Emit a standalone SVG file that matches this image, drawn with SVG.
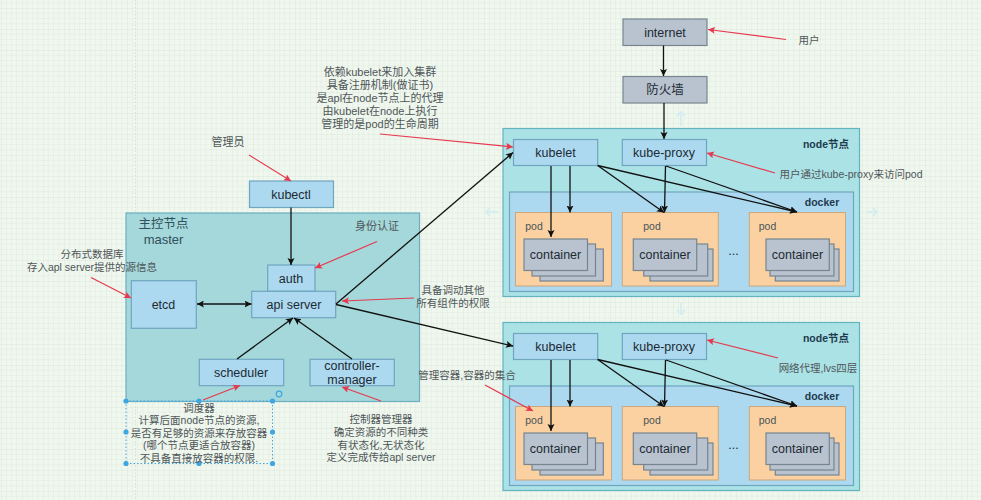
<svg xmlns="http://www.w3.org/2000/svg" xmlns:xlink="http://www.w3.org/1999/xlink" width="981" height="500" viewBox="0 0 981 500">
<style>
text{font-family:"Liberation Sans","Noto Sans CJK SC",sans-serif;text-anchor:middle;dominant-baseline:central}
.b{fill:#acd9ef;stroke:#6ea6bf;stroke-width:1.2}
.g{fill:#b8c3cf;stroke:#76858f;stroke-width:1.2}
.p{fill:#fbd1a2;stroke:#c9a77f;stroke-width:1}
.t{font-size:12.5px;fill:#1d2a33}
.n{font-size:10.5px;fill:#4a5558}
.h{font-size:10.5px;font-weight:bold;fill:#1f3a4d}
.l{font-size:10.5px;fill:#4f5659}
.m{font-size:11px;fill:#4f5659}
.k{fill:none;stroke:#111;stroke-width:1.3;marker-end:url(#ka)}
.r{fill:none;stroke:#e6394f;stroke-width:1.2;marker-end:url(#ra)}
.hd{fill:#3ea6e0}
.sel{fill:none;stroke:#3ea6e0;stroke-width:1;stroke-dasharray:1.5 2}
.ga{fill:none;stroke:#d6eef0;stroke-width:2}
</style>
<defs>
<marker id="ka" markerWidth="8" markerHeight="8" refX="7" refY="3.5" orient="auto" markerUnits="userSpaceOnUse"><path d="M0 0L7 3.5L0 7L1.5 3.5Z" fill="#111"/></marker>
<marker id="ks" markerWidth="8" markerHeight="8" refX="0" refY="3.5" orient="auto" markerUnits="userSpaceOnUse"><path d="M7 0L0 3.5L7 7L5.5 3.5Z" fill="#111"/></marker>
<marker id="ra" markerWidth="8" markerHeight="8" refX="7" refY="3.5" orient="auto" markerUnits="userSpaceOnUse"><path d="M0 0L7 3.5L0 7L1.5 3.5Z" fill="#e6394f"/></marker>
<pattern id="grid" width="21" height="21" patternUnits="userSpaceOnUse" x="1" y="8">
<rect width="21" height="21" fill="#f0f7ee"/>
<path d="M5.25 0V21M10.5 0V21M15.75 0V21M0 5.25H21M0 10.5H21M0 15.75H21" stroke="#e7f1e6" stroke-width="1" fill="none"/>
<path d="M0 0V21M0 0H21" stroke="#dbe7db" stroke-width="1" fill="none"/>
</pattern>
<g id="stack1"><rect class="g" x="540" y="249" width="63.3" height="32"/><rect class="g" x="532" y="244" width="63.5" height="32"/><rect class="g" x="524" y="239" width="63.5" height="31.5"/></g>
<g id="stack2"><rect class="g" x="650" y="249" width="63" height="32"/><rect class="g" x="643.7" y="244" width="64" height="32"/><rect class="g" x="633.3" y="239" width="63.4" height="31.5"/></g>
<g id="stack3"><rect class="g" x="775.3" y="249" width="63.7" height="32"/><rect class="g" x="770" y="244" width="64" height="32"/><rect class="g" x="766" y="239" width="63.3" height="31.5"/></g>
</defs>
<rect width="981" height="500" fill="url(#grid)"/>
<path d="M135.5 0V500" stroke="#d5dfd5" stroke-dasharray="1.5 2" fill="none"/>
<g id="guides">
<path class="ga" d="M681 126V112M677 116L681 112L685 116"/>
<path class="ga" d="M498 212H486M490 208L486 212L490 216"/>
<path class="ga" d="M866 212H877M873 208L877 212L873 216"/>
<path class="ga" d="M681 303V314M677 310L681 314L685 310"/>
</g>
<g id="master"><rect x="126" y="213" width="293.5" height="188.5" fill="#a5d8da" stroke="#6eaec2" stroke-width="1.2"/>
<text x="163.5" y="224" font-size="12.5" fill="#2f4f5c">主控节点</text>
<text x="163.5" y="239" font-size="13" fill="#2f4f5c">master</text></g>
<g id="node-1"><rect x="503" y="128.5" width="356.5" height="168" fill="#abe2e6" stroke="#64b4c0" stroke-width="1.2"/>
<text class="h" x="826" y="144">node节点</text></g>
<g id="docker-1"><rect x="509.5" y="192" width="344" height="99.5" class="b"/><text class="h" x="822" y="202">docker</text></g>
<g id="pod-1a"><rect class="p" x="515.5" y="212.5" width="96" height="73.5"/><text class="n" x="534" y="226">pod</text><use href="#stack1"/><text class="t" x="555.5" y="255">container</text></g>
<g id="pod-1b"><rect class="p" x="622.3" y="212.5" width="96" height="73.5"/><text class="n" x="652" y="226">pod</text><use href="#stack2"/><text class="t" x="665" y="255">container</text></g>
<g id="pod-1c"><rect class="p" x="749.3" y="212.5" width="96.2" height="73.5"/><text class="n" x="767.5" y="226">pod</text><use href="#stack3"/><text class="t" x="797.5" y="255">container</text></g>
<text class="t" x="733.5" y="251">...</text>
<g id="node-2"><rect x="503" y="322.5" width="356.5" height="168" fill="#abe2e6" stroke="#64b4c0" stroke-width="1.2"/>
<text class="h" x="826" y="338">node节点</text></g>
<g id="docker-2"><rect x="509.5" y="386" width="344" height="99.5" class="b"/><text class="h" x="822" y="396">docker</text></g>
<g id="pod-2a"><rect class="p" x="515.5" y="406.5" width="96" height="73.5"/><text class="n" x="534" y="420">pod</text><use href="#stack1" y="194"/><text class="t" x="555.5" y="449">container</text></g>
<g id="pod-2b"><rect class="p" x="622.3" y="406.5" width="96" height="73.5"/><text class="n" x="652" y="420">pod</text><use href="#stack2" y="194"/><text class="t" x="665" y="449">container</text></g>
<g id="pod-2c"><rect class="p" x="749.3" y="406.5" width="96.2" height="73.5"/><text class="n" x="767.5" y="420">pod</text><use href="#stack3" y="194"/><text class="t" x="797.5" y="449">container</text></g>
<text class="t" x="733.5" y="445">...</text>
<g id="kubectl"><rect class="b" x="249.5" y="181" width="84" height="26.5"/><text class="t" x="291" y="195">kubectl</text></g>
<g id="auth"><rect class="b" x="267.7" y="265" width="47.3" height="26.3"/><text class="t" x="291" y="279">auth</text></g>
<g id="api-server"><rect class="b" x="251.7" y="291.3" width="84" height="26.4"/><text class="t" x="294" y="305">api server</text></g>
<g id="etcd"><rect class="b" x="131.3" y="280.7" width="65" height="47.6"/><text class="t" x="163.5" y="305">etcd</text></g>
<g id="scheduler"><rect class="b" x="199.3" y="359.3" width="84.4" height="26.4"/><text class="t" x="241" y="373">scheduler</text></g>
<g id="controller-manager"><rect class="b" x="310" y="359.3" width="84.3" height="26.4"/><text class="t" x="352" y="366">controller-</text><text class="t" x="352" y="380">manager</text></g>
<g id="internet"><rect class="g" x="623" y="19" width="84" height="26.5"/><text class="t" x="665" y="32.5">internet</text></g>
<g id="firewall"><rect class="g" x="623" y="76.5" width="84" height="26.5"/><text x="665" y="90" font-size="12.5" fill="#1d2a33">防火墙</text></g>
<g id="kubelet-1"><rect class="b" x="513.5" y="139.5" width="84.2" height="26"/><text class="t" x="555.5" y="153">kubelet</text></g>
<g id="kube-proxy-1"><rect class="b" x="622.3" y="139.5" width="84.2" height="26"/><text class="t" x="664" y="153">kube-proxy</text></g>
<g id="kubelet-2"><rect class="b" x="513.5" y="333.5" width="84.2" height="26"/><text class="t" x="555.5" y="347">kubelet</text></g>
<g id="kube-proxy-2"><rect class="b" x="622.3" y="333.5" width="84.2" height="26"/><text class="t" x="664" y="347">kube-proxy</text></g>
<g id="connectors">
<path class="k" d="M291 207.5V265"/>
<path class="k" d="M197 304H251.5" marker-start="url(#ks)"/>
<path class="k" d="M237 359L293 318"/>
<path class="k" d="M352 359L294 318"/>
<path class="k" d="M336 304L513 152.5"/>
<path class="k" d="M336 304.5L513 346"/>
<path class="k" d="M663.5 45.5V76"/>
<path class="k" d="M664 103V139"/>
<path class="k" d="M551 166V237"/><path class="k" d="M570 166V212.5"/>
<path class="k" d="M597.7 165.5L664 212.5"/><path class="k" d="M597.7 165.5L797 212"/>
<path class="k" d="M665.5 166L664.5 212.5"/><path class="k" d="M666 166L797 212"/>
<path class="k" d="M551 360V431"/><path class="k" d="M570 360V406.5"/>
<path class="k" d="M597.7 359.5L664 406.5"/><path class="k" d="M597.7 359.5L797 406"/>
<path class="k" d="M665.5 360L664.5 406.5"/><path class="k" d="M666 360L797 406"/>
<path class="r" d="M249 155L291 181"/>
<path class="r" d="M380 134L513 147"/>
<path class="r" d="M377 241.5L315 268"/>
<path class="r" d="M91 277.5L131 298"/>
<path class="r" d="M414 298L342 301"/>
<path class="r" d="M203 400L240 385.5"/>
<path class="r" d="M381 401L342 387"/>
<path class="r" d="M786 39.5L708 29.5"/>
<path class="r" d="M775 173L707 153"/>
<path class="r" d="M778 358L707 340"/>
<path class="r" d="M485 385L533 411"/>
</g>
<g id="selection">
<rect class="sel" x="126" y="401" width="146.5" height="62.5"/>
<circle class="hd" cx="126" cy="401" r="2.6"/><circle class="hd" cx="199" cy="401" r="2.6"/><circle class="hd" cx="272.5" cy="401" r="2.6"/>
<circle class="hd" cx="126" cy="432" r="2.6"/><circle class="hd" cx="272.5" cy="432" r="2.6"/>
<circle class="hd" cx="126" cy="463.5" r="2.6"/><circle class="hd" cx="199" cy="463.5" r="2.6"/><circle class="hd" cx="272.5" cy="463.5" r="2.6"/>
<circle cx="279" cy="394" r="2.8" fill="none" stroke="#3ea6e0" stroke-width="1.2"/>
</g>
<g id="labels">
<text class="m" x="380" y="72">依赖kubelet来加入集群</text>
<text class="m" x="380" y="85">具备注册机制(做证书)</text>
<text class="m" x="380" y="98">是apl在node节点上的代理</text>
<text class="m" x="380" y="111">由kubelet在node上执行</text>
<text class="m" x="380" y="124">管理的是pod的生命周期</text>
<text class="m" x="228" y="142">管理员</text>
<text class="m" x="377" y="226">身份认证</text>
<text class="l" x="92" y="253.5">分布式数据库</text>
<text class="l" x="92" y="266.5">存入apl server提供的源信息</text>
<text class="l" x="453" y="290">具备调动其他</text>
<text class="l" x="453" y="303">所有组件的权限</text>
<text class="l" x="467" y="374.5">管理容器,容器的集合</text>
<text class="l" x="199" y="407.5">调度器</text>
<text class="l" x="199" y="420">计算后面node节点的资源,</text>
<text class="l" x="199" y="432.5">是否有足够的资源来存放容器</text>
<text class="l" x="199" y="445">(哪个节点更适合放容器)</text>
<text class="l" x="199" y="458">不具备直接放容器的权限.</text>
<text class="l" x="381" y="419">控制器管理器</text>
<text class="l" x="381" y="432">确定资源的不同种类</text>
<text class="l" x="381" y="444.5">有状态化,无状态化</text>
<text class="l" x="381" y="457">定义完成传给apl server</text>
<text class="l" x="809" y="40">用户</text>
<text class="l" x="851" y="173.5">用户通过kube-proxy来访问pod</text>
<text class="l" x="818" y="367.5">网络代理,lvs四层</text>
</g>
</svg>
